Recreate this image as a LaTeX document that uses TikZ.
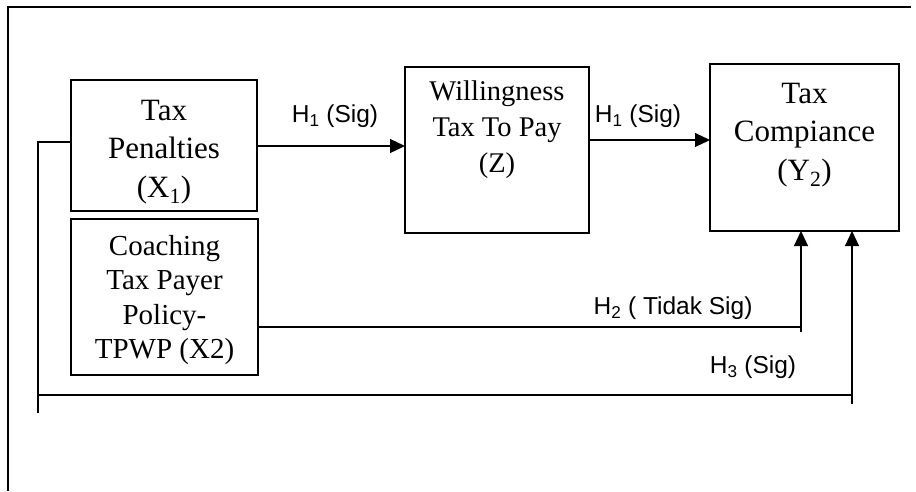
\documentclass[tikz,border=0pt]{standalone}
\usepackage{fontspec}
\setmainfont{Liberation Serif}
\newfontfamily\labfont{Liberation Sans}
\usetikzlibrary{arrows.meta}
\begin{document}
\begin{tikzpicture}[x=1pt,y=-1pt,
  every path/.style={line width=1.2pt},
  box/.style={draw,line width=1.2pt,rectangle,inner sep=0pt,outer sep=0pt},
  boxtext/.style={align=center,inner sep=0pt},
  lab/.style={inner sep=0pt,font=\labfont\fontsize{24.5}{28}\selectfont},
  arr/.style={-{Triangle[length=15pt,width=14pt]}}]
\useasboundingbox (0,0) rectangle (916,491);
% frame
\draw (911,7) -- (8,7) -- (8,491);
% boxes
\node[box,minimum width=186pt,minimum height=131pt] (tp) at (164,145.5) {};
\node[box,minimum width=184pt,minimum height=166pt] (wz) at (497,150) {};
\node[box,minimum width=189pt,minimum height=167pt] (yc) at (804.5,147.5) {};
\node[box,minimum width=187pt,minimum height=156pt] (x2) at (164.5,297) {};
% box texts
\node[boxtext,font=\fontsize{31}{38.5}\selectfont] (tpt) at (164,152) {Tax\\Penalties\\(X\textsubscript{1})};
\node[boxtext,font=\fontsize{28.5}{36}\selectfont] (wzt) at (497,130) {Willingness\\Tax To Pay\\(Z)};
\node[boxtext,font=\fontsize{31}{38.5}\selectfont] (yct) at (804.5,135) {Tax\\Compiance\\(Y\textsubscript{2})};
\node[boxtext,font=\fontsize{29}{34.5}\selectfont] (x2t) at (164.5,300) {Coaching\\Tax Payer\\Policy-\\TPWP (X2)};
% coordinates
\coordinate (lt) at (38,142);
\coordinate (lb) at (38,413);
\coordinate (hl) at (38,395);
\coordinate (hr) at (852,395);
\coordinate (vr) at (852,404);
\coordinate (cr) at (801,327);
\coordinate (cb) at (801,332);
% connectors
\draw[arr] (tp.east |- 0,146) -- (wz.west |- 0,146);
\draw[arr] (wz.east |- 0,140) -- (yc.west |- 0,140);
\draw ([yshift=3.5pt]tp.west) -- (lt) -- (lb);
\draw (hl) -- (hr);
\draw[arr] (vr) -- (vr |- yc.south);
\draw (x2.east |- cr) -- (cr);
\draw[arr] (cb) -- (cb |- yc.south);
% labels
\node[lab] (l1) at (335,116) {H\textsubscript{1} (Sig)};
\node[lab] (l2) at (638,116) {H\textsubscript{1} (Sig)};
\node[lab] (l3) at (673,308) {H\textsubscript{2} ( Tidak Sig)};
\node[lab] (l4) at (753,367) {H\textsubscript{3} (Sig)};
\end{tikzpicture}
\end{document}
